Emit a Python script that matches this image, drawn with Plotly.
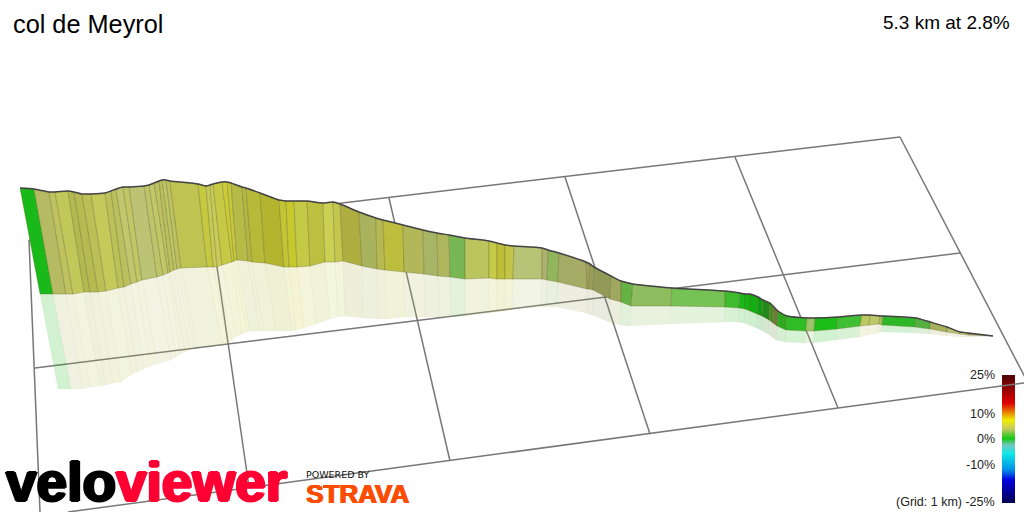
import plotly.graph_objects as go

title_text = "col de Meyrol"
summary_text = "5.3 km at 2.8%"

top_x = [20,34,49,55,68,74,82,91,105,111,116,123,129,144,149,154,159,162,166,170,198,206,210,213,222,227,231,242,246,260,279,286,294,307,323,333,340,359,376,383,403,423,437,449,465,489,497,505,514,542,548,559,586,590,594,611,621,633,672,725,740,745,750,758,763,770,774,778,787,807,815,838,862,870,880,883,916,930,947,960,968,993]
top_y = [188,189,192,192,191,192,194,194,193,191,189,187,187,186,185,183,181,180,180,181,184,186,185,184,182,182,183,187,188,193,200,201,201,201,203,202,204,212,218,220,225,230,233,235,238,241,243,245,246,248,250,253,262,264,267,276,281,284,288,291,293,294,294,297,300,303,307,311,316,318,318,317,315,315,316,316,318,322,327,332,333,336]
base_x = [40,53,66,73,84,90,98,106,118,124,131,137,142,157,163,168,170,174,177,181,207,213,217,222,232,234,237,248,252,265,284,289,297,310,325,335,343,362,377,385,404,424,438,450,465,489,497,505,513,542,547,558,587,589,593,610,621,631,671,725,739,745,750,757,762,769,773,777,786,806,814,837,860,869,879,882,915,930,947,960,968,993]
base_y = [294,294,294,294,292,292,292,291,288,287,284,282,280,277,275,273,272,270,269,268,267,267,267,265,262,261,260,261,262,263,267,267,267,266,262,262,261,266,269,270,272,274,276,277,279,278,279,279,279,279,280,282,289,289,290,299,302,306,306,307,308,309,311,314,316,320,323,326,330,331,331,329,326,325,324,325,327,329,332,334,335,336]
refl_x = [58,71,83,90,100,106,113,121,132,137,144,150,157,171,176,180,185,190,194,197,222,228,232,236,242,247,250,260,264,276,292,296,304,316,330,338,345,363,378,386,405,425,439,451,465,488,496,504,512,541,546,557,586,588,592,609,620,630,670,724,738,744,749,756,761,768,772,776,785,805,813,836,859,868,878,881,914,930,947,960,968,993]
refl_y = [389,389,389,387,386,385,383,382,374,372,369,366,364,360,357,354,352,350,348,347,345,344,340,337,334,332,331,331,331,331,331,330,328,324,319,317,316,318,319,319,317,317,317,317,316,313,312,311,309,307,307,307,313,314,315,322,325,326,324,322,322,323,325,328,330,334,337,340,342,343,343,340,337,335,333,332,333,334,336,337,337,336]
segment_colors = ["#19b919","#b6ba62","#bfc25e","#c2c75a","#b3b94f","#b7ba50","#bcbf55","#c4c95a","#bcc059","#bbc05e","#c2c66c","#c2c766","#bcc374","#bdc46a","#c2c767","#bdc160","#bcc05c","#bfc465","#bdc25f","#bec352","#c5c93f","#c7ca55","#c9cc58","#c6c945","#cccd35","#c5c83a","#b6bb48","#b4b741","#b7b938","#b4b52e","#c3c535","#c6c82c","#c4c946","#bcc040","#cad053","#c4c74e","#aeae40","#a9b25c","#b5b950","#bdbe3d","#b2b75a","#a8b466","#afb75e","#77b855","#bac55e","#c5ca48","#bebf37","#c2c548","#b7c477","#aeb26c","#90b55a","#a4ac66","#9ca058","#98a058","#929a58","#a0a860","#66b244","#90bc60","#76c254","#3fbb2e","#18b818","#14b414","#12ae12","#109c10","#208a18","#4e8c28","#707a38","#30a820","#2fbc24","#9cc468","#1bbe17","#3fbf33","#bcc860","#bcc868","#a8bc60","#2eb828","#55b044","#a8b060","#bcc070","#c0c470","#a0a060"]

grid_x0 = [29,35,68,29,217,389,565,735,900]
grid_y0 = [240,368,512,240,267,198,177,157,137]
grid_x1 = [900,960,1024,40,249,450,650,838,1028]
grid_y1 = [137,253,383,512,487,461,434,408,383]

scale_grades = [25,14,7.4,4,0.2,-2.4,-5.7,-12,-16,-25]
scale_colors = ["#4a0505","#e00000","#eeee00","#c8c860","#14c814","#70c8c0","#10e8e8","#0090e8","#0000e0","#000050"]
scale_labels = ["25%","10%","0%","-10%","(Grid: 1 km) -25%"]
scale_label_y = [375,414,439,465,502]
scale_x = [1002,1015]
scale_top = 375
scale_bottom = 503
scale_grade_top = 25
scale_grade_bottom = -25


def hex_rgba(c, a):
    return f"rgba({int(c[1:3],16)},{int(c[3:5],16)},{int(c[5:7],16)},{a})"


fig = go.Figure()
for x0, y0, x1, y1 in zip(grid_x0, grid_y0, grid_x1, grid_y1):
    fig.add_trace(go.Scatter(x=[x0, x1], y=[y0, y1], mode="lines",
                             line=dict(color="#777777", width=1.5), hoverinfo="skip"))

for i, c in enumerate(segment_colors):
    fig.add_trace(go.Scatter(
        x=[base_x[i], base_x[i+1], refl_x[i+1], refl_x[i], base_x[i]],
        y=[base_y[i], base_y[i+1], refl_y[i+1], refl_y[i], base_y[i]],
        mode="lines", fill="toself", fillcolor=hex_rgba(c, 0.2),
        line=dict(color="rgba(120,120,80,0.03)", width=1), hoverinfo="skip"))

for i, c in enumerate(segment_colors):
    fig.add_trace(go.Scatter(
        x=[top_x[i], top_x[i+1], base_x[i+1], base_x[i], top_x[i]],
        y=[top_y[i], top_y[i+1], base_y[i+1], base_y[i], top_y[i]],
        mode="lines", fill="toself", fillcolor=c,
        line=dict(color="rgba(95,95,40,0.3)", width=1), hoverinfo="skip"))

fig.add_trace(go.Scatter(x=top_x, y=top_y, mode="lines",
                         line=dict(color="#444444", width=1.5, shape="spline", smoothing=0.6),
                         hoverinfo="skip"))

# colour key: one pixel-tall row per grade step of the scale
n_rows = scale_bottom - scale_top
edges = [scale_top + k for k in range(n_rows + 1)]
row_grades = [scale_grade_top + (k + 0.5) / n_rows * (scale_grade_bottom - scale_grade_top)
              for k in range(n_rows)]
fig.add_trace(go.Heatmap(
    x=scale_x, y=edges, z=[[g] for g in row_grades],
    zmin=-25, zmax=25, showscale=False, hoverinfo="skip",
    colorscale=[[(g + 25) / 50, c] for g, c in sorted(zip(scale_grades, scale_colors))]))


def txt(x, y, s, size, color="#000000", anchor="left", family="Liberation Sans", **font):
    fig.add_annotation(x=x, y=y, text=s, showarrow=False, xanchor=anchor, yanchor="middle",
                       xref="x", yref="y", borderpad=0,
                       font=dict(size=size, color=color, family=family, **font))


def heavy(c):
    return f"1.5px 0 0 {c}, -1.5px 0 0 {c}, 0 1px 0 {c}, 0 -1px 0 {c}"


txt(12, 24, title_text, 25.3)
txt(1011, 22, summary_text, 19, anchor="right")
for s, y in zip(scale_labels, scale_label_y):
    txt(996, y, s, 12.5, color="#222222", anchor="right")

txt(5, 482, "velo", 55, weight="bold", shadow=heavy("#000000"))
txt(115, 482, "viewer", 55, color="#ff0033", weight="bold", shadow=heavy("#ff0033"))
txt(305, 474, "POWERED BY", 9.5, color="#111111", family="DejaVu Sans")
txt(305, 494, "STRAVA", 26, color="#fc4c02", weight="bold", shadow="1px 0 0 #fc4c02, -0.5px 0 0 #fc4c02")

fig.update_layout(
    width=1024, height=512, autosize=False, showlegend=False,
    margin=dict(l=0, r=0, t=0, b=0), paper_bgcolor="#ffffff", plot_bgcolor="#ffffff",
    hovermode=False,
    xaxis=dict(range=[0, 1024], visible=False, fixedrange=True),
    yaxis=dict(range=[512, 0], visible=False, fixedrange=True),
)
fig.write_html("out.html", config=dict(displayModeBar=False),
               post_script="document.body.style.margin='0';document.body.style.overflow='hidden';")
